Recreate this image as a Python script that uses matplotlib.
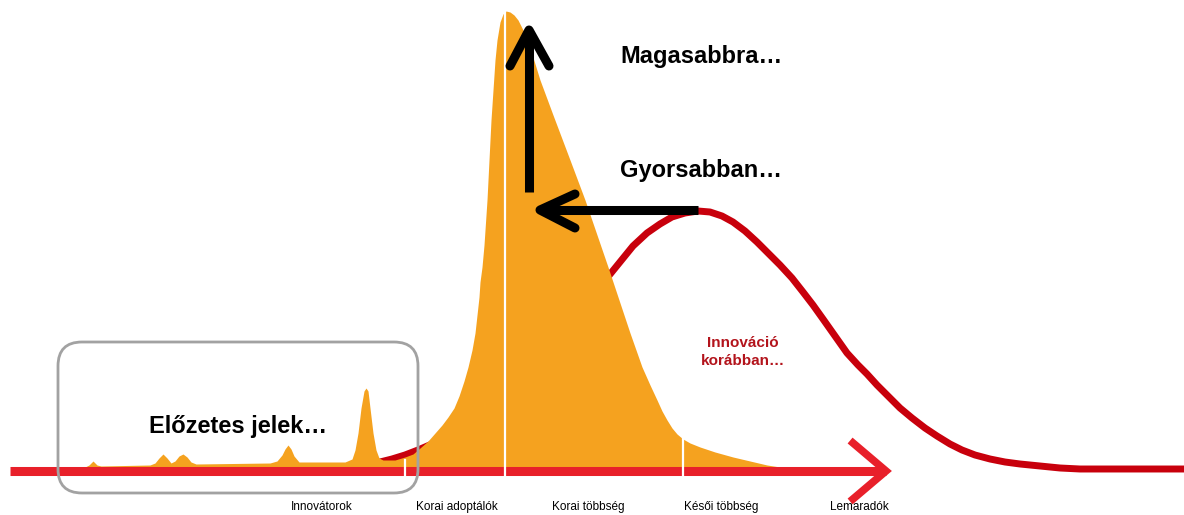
import matplotlib.pyplot as plt
from matplotlib.patches import FancyBboxPatch

plt.rcParams['font.family'] = ['Liberation Sans', 'DejaVu Sans']

# canvas is in pixel units, y grows downward like the picture
W, H = 1184, 515
base_y = 471

# orange adoption spike (top edge)
orange_x = [60, 85, 89, 93, 97, 101, 150, 155, 159, 163, 167, 171, 175, 179, 183, 187, 191, 196,
            270, 277, 282, 285, 288, 291, 294, 299, 345, 352, 355, 358, 361, 364, 366, 368, 370, 373,
            376, 379, 383, 395, 405, 413, 420, 428, 435, 442, 448, 454, 459, 464, 468, 472, 475, 477,
            479, 480, 482, 484, 487, 489, 491, 493, 495, 497, 500, 503, 506, 510, 514, 518, 522, 527,
            540, 553, 570, 585, 608, 630, 642, 650, 657, 662, 667, 672, 677, 683, 690, 700, 715, 733,
            750, 767, 780, 795]
orange_y = [467, 467, 465, 461, 465, 466, 465, 463, 458, 454, 458, 463, 461, 456, 454, 457, 462, 464,
            463, 461, 455, 449, 445, 449, 456, 462, 462, 459, 450, 433, 408, 391, 388, 391, 408, 433,
            450, 458, 460, 460, 457, 454, 448, 441, 433, 425, 417, 408, 396, 381, 367, 350, 333, 315,
            297, 282, 267, 245, 200, 160, 120, 90, 60, 40, 22, 14, 11, 12, 15, 20, 28, 38,
            80, 115, 160, 200, 267, 333, 367, 385, 400, 411, 420, 428, 434, 439, 443, 447, 452, 457,
            461, 465, 467, 468]

# classic red adoption curve
red_x = [380, 392, 405, 418, 432, 460, 505, 530, 555, 580, 600, 607, 620, 633, 647, 660, 672, 685,
         698, 710, 722, 733, 745, 757, 767, 780, 792, 803, 813, 823, 835, 847, 858, 867, 877, 890,
         900, 912, 925, 937, 950, 962, 975, 990, 1005, 1020, 1040, 1060, 1080, 1120, 1184]
red_y = [462, 459, 455, 450, 444, 430, 398, 370, 338, 307, 285, 278, 262, 246, 233, 224, 217, 213,
         211, 212, 216, 222, 231, 242, 252, 265, 278, 292, 305, 319, 336, 353, 365, 374, 385, 398,
         408, 418, 428, 436, 444, 450, 455, 459, 462, 464, 466, 468, 469, 469, 469]

# segment dividers
divider_x = [405, 505, 683]
divider_top = [460, 8, 439]

segments = ['Innovátorok', 'Korai adoptálók', 'Korai többség', 'Késői többség', 'Lemaradók']
segment_x = [322, 457, 588, 721, 859]

orange = '#f5a21f'
red_axis = '#e8202a'
red_curve = '#c8000c'

fig = plt.figure(figsize=(W / 100, H / 100), dpi=100)
ax = fig.add_axes([0, 0, 1, 1])
ax.set_xlim(0, W)
ax.set_ylim(H, 0)
ax.axis('off')

ax.plot(red_x, red_y, color=red_curve, lw=5, solid_capstyle='round', solid_joinstyle='round', zorder=1)
ax.fill_between(orange_x, orange_y, base_y, color=orange, lw=0, zorder=2)

# axis arrow
ax.plot([10, 886], [base_y, base_y], color=red_axis, lw=6.5, solid_capstyle='butt', zorder=3)
ax.plot([853, 886, 853], [443, base_y, 499], color=red_axis, lw=5.5, solid_joinstyle='miter', zorder=3)

for dx, dt in zip(divider_x, divider_top):
    ax.plot([dx, dx], [dt, 478], color='white', lw=1.6, zorder=4)

# black arrows
ax.plot([698, 540], [210, 210], color='black', lw=6.5, solid_capstyle='butt', zorder=5)
ax.plot([575, 540, 575], [194, 210, 228], color='black', lw=6.5, solid_capstyle='round', zorder=5)
ax.plot([529, 529], [192, 32], color='black', lw=6.5, solid_capstyle='butt', zorder=5)
ax.plot([510, 529, 549], [66, 30, 66], color='black', lw=6.5, solid_capstyle='round', zorder=5)

box = FancyBboxPatch((58, 342), 360, 151, boxstyle='round,pad=0,rounding_size=24',
                     fc='none', ec='#a2a2a2', lw=2, zorder=6)
ax.add_patch(box)

ax.text(620, 57, 'Magasabbra…', fontsize=17, fontweight='bold', ha='left', va='center', zorder=7)
ax.text(620, 170, 'Gyorsabban…', fontsize=17, fontweight='bold', ha='left', va='center', zorder=7)
ax.text(238, 427, 'Előzetes jelek…', fontsize=17, fontweight='bold', ha='center', va='center', zorder=7)
ax.text(743, 352, 'Innováció\nkorábban…', fontsize=11, fontweight='bold', color='#b3141c',
        ha='center', va='center', linespacing=1.45, zorder=7)

for name, sx in zip(segments, segment_x):
    ax.text(sx, 507, name, fontsize=8.5, ha='center', va='center', zorder=7)

fig.savefig('out.png', dpi=100)
